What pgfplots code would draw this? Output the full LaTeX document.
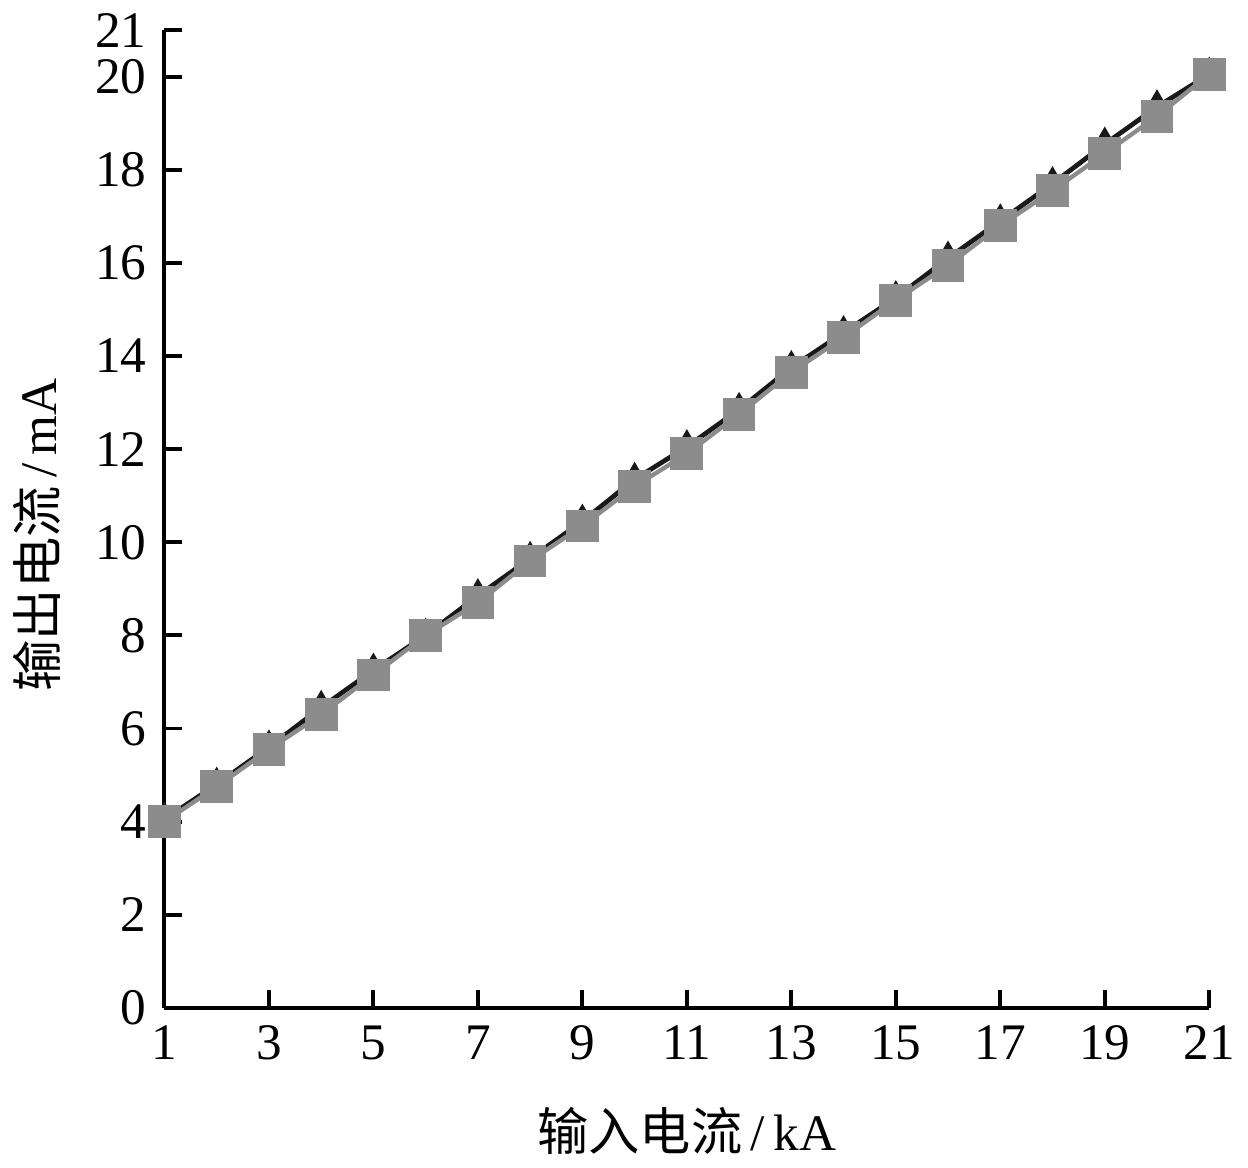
\documentclass[border=0pt]{standalone}
\usepackage{fontspec}
\setmainfont{Liberation Serif}
\newfontfamily\cjk{Noto Sans CJK SC}
\usepackage{pgfplots}
\pgfplotsset{compat=1.18}
\definecolor{sqgray}{RGB}{140,140,140}
\definecolor{ln}{RGB}{25,25,25}

\begin{document}
\begin{tikzpicture}
\begin{axis}[
    scale only axis,
    width=265pt, height=248pt,
    xmin=1, xmax=21, ymin=0, ymax=21,
    axis lines=left,
    axis line style={line width=1pt, -},
    xtick={1,3,...,21},
    ytick={0,2,4,6,8,10,12,14,16,18,20,21},
    tick align=inside,
    major tick length=4.5pt,
    tick style={line width=1pt, black},
    clip=false,
    font=\fontsize{13}{15}\selectfont,
    /pgf/number format/assume math mode=true,
    xticklabel style={yshift=-1pt},
    yticklabel style={xshift=-1pt},
    xlabel={{\cjk 输入电流}\,/\,kA},
    ylabel={{\cjk 输出电流}\,/\,mA},
    xlabel style={yshift=-5pt},
    ylabel style={yshift=2pt, xshift=-4pt},
]
\addplot[ln, line width=1.2pt, mark=triangle*, mark size=3.3pt,
    mark options={fill=ln, draw=ln}] coordinates {
    (1,4.05) (2,4.8) (3,5.6) (4,6.45) (5,7.25) (6,8.0) (7,8.85)
    (8,9.65) (9,10.45) (10,11.35) (11,12.05) (12,12.85) (13,13.75)
    (14,14.5) (15,15.25) (16,16.1) (17,16.9) (18,17.7) (19,18.55)
    (20,19.35) (21,20.05)};
\addplot[sqgray, line width=1.1pt, mark=square*, mark size=3.6pt,
    mark options={fill=sqgray, draw=sqgray, rounded corners=0.6pt}] coordinates {
    (1,4.0) (2,4.75) (3,5.55) (4,6.3) (5,7.15) (6,8.0) (7,8.7)
    (8,9.6) (9,10.35) (10,11.2) (11,11.9) (12,12.75) (13,13.65)
    (14,14.4) (15,15.2) (16,15.95) (17,16.8) (18,17.55) (19,18.35)
    (20,19.15) (21,20.05)};
\end{axis}
\end{tikzpicture}
\end{document}
